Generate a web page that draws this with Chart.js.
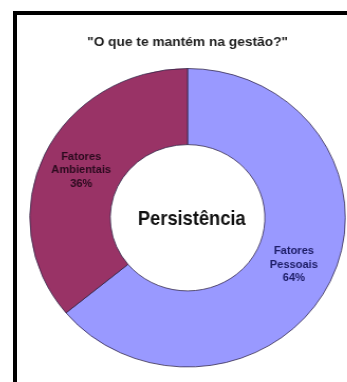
<!DOCTYPE html>
<html lang="pt">
<head>
    <meta charset="UTF-8">
    <title>O que te mantém na gestão?</title>
    <script src="https://cdn.jsdelivr.net/npm/chart.js@4.4.0/dist/chart.umd.min.js"></script>
    <style>
        html, body {
            margin: 0;
            padding: 0;
            background: #ffffff;
            width: 347px;
            height: 382px;
            overflow: hidden;
        }
        .frame {
            position: absolute;
            left: 13px;
            top: 11px;
            width: 400px;
            height: 400px;
            border-left: 4px solid #000;
            border-top: 4px solid #000;
        }
        .chart-wrap {
            position: absolute;
            left: 29px;
            top: 0;
            width: 300px;
            height: 382px;
            transform: scaleX(1.057);
            transform-origin: 0 0;
        }
    </style>
</head>
<body>
    <div class="frame"></div>
    <div class="chart-wrap">
        <canvas id="gestaoChart"></canvas>
    </div>

    <script>
        // Dados da pesquisa
        const categorias = ['Fatores Pessoais', 'Fatores Ambientais'];
        const percentuais = [64, 36];
        const cores = ['#9999ff', '#993366'];
        const coresTexto = ['#1c1c66', '#2a0a1e'];
        const tituloGrafico = '"O que te mantém na gestão?"';
        const textoCentral = 'Persistência';

        // Rótulos dentro das fatias + texto no centro
        const rotulosPlugin = {
            id: 'rotulos',
            afterDraw(chart) {
                const ctx = chart.ctx;
                const meta = chart.getDatasetMeta(0);
                ctx.save();
                ctx.textAlign = 'center';
                ctx.textBaseline = 'middle';

                meta.data.forEach((arc, i) => {
                    const p = arc.getCenterPoint();
                    const linhas = categorias[i].split(' ').concat(percentuais[i] + '%');
                    ctx.font = 'bold 10.5px "Liberation Sans", Arial, sans-serif';
                    ctx.fillStyle = coresTexto[i];
                    linhas.forEach((txt, j) => {
                        ctx.fillText(txt, p.x, p.y + (j - 1) * 13.5);
                    });
                });

                // texto central mais estreito (fonte condensada)
                const centro = meta.data[0];
                ctx.font = 'bold 21px "Liberation Sans", Arial, sans-serif';
                ctx.fillStyle = '#111';
                const largura = ctx.measureText(textoCentral).width;
                const k = 102 / largura;
                ctx.translate(centro.x + 4, centro.y + 1);
                ctx.scale(k, 1);
                ctx.fillText(textoCentral, 0, 0);
                ctx.restore();
            }
        };

        Chart.defaults.font.family = '"Liberation Sans", Arial, sans-serif';

        const ctx = document.getElementById('gestaoChart').getContext('2d');
        new Chart(ctx, {
            type: 'doughnut',
            data: {
                labels: categorias,
                datasets: [{
                    data: percentuais,
                    backgroundColor: cores,
                    borderColor: 'rgba(45, 35, 70, 0.75)',
                    borderWidth: 1,
                    hoverOffset: 0
                }]
            },
            options: {
                responsive: true,
                maintainAspectRatio: false,
                animation: false,
                cutout: '49%',
                layout: {
                    padding: { bottom: 14.5 }
                },
                plugins: {
                    legend: { display: false },
                    tooltip: { enabled: false },
                    title: {
                        display: true,
                        text: tituloGrafico,
                        color: '#1e1e1e',
                        font: { size: 13, weight: 'bold' },
                        padding: { top: 34.5, bottom: 17.9 }
                    }
                }
            },
            plugins: [rotulosPlugin]
        });
    </script>
</body>
</html>
